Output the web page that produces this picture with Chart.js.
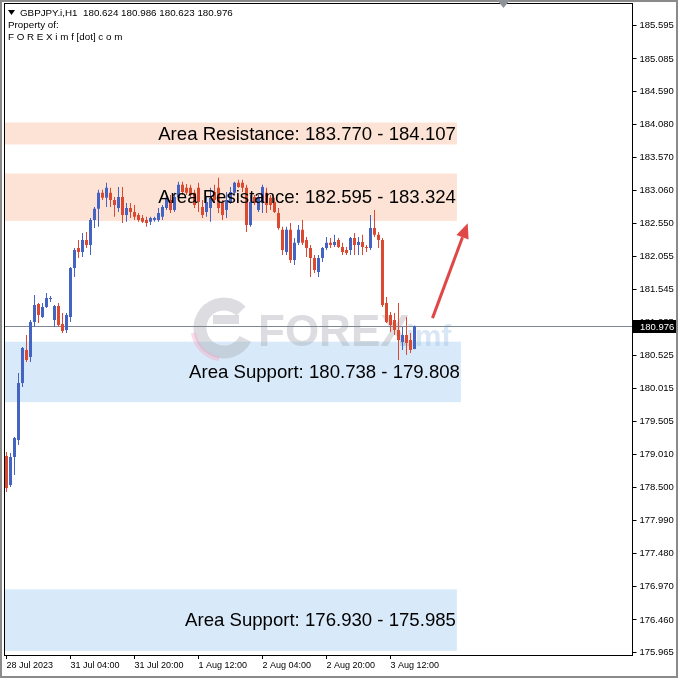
<!DOCTYPE html>
<html>
<head>
<meta charset="utf-8">
<title>GBPJPY H1</title>
<script src="https://cdn.jsdelivr.net/npm/chart.js@4.4.0/dist/chart.umd.min.js"></script>
<style>
  html, body { margin: 0; padding: 0; background: #fff; }
  #wrap { width: 678px; height: 678px; position: relative; }
</style>
</head>
<body>
<div id="wrap"><canvas id="chart" width="678" height="678"></canvas></div>
<script>
// --- data (GBPJPY.i, H1) ---
const opens = [
  178.980, 178.533, 178.964, 179.226, 180.103, 180.610, 180.503, 181.041, 181.318, 181.118,
  181.272, 181.395, 181.072, 181.287, 181.010, 180.918, 181.118, 181.872, 182.180, 182.118,
  182.303, 182.226, 182.610, 182.780, 183.026, 182.949, 183.026, 182.918, 182.795, 182.964,
  182.687, 182.795, 182.733, 182.687, 182.641, 182.610, 182.580, 182.610, 182.610, 182.657,
  182.795, 182.918, 182.764, 182.964, 183.149, 183.103, 183.103, 183.026, 183.103, 182.810,
  182.733, 182.795, 183.041, 183.103, 182.872, 182.764, 182.887, 183.026, 183.180, 183.180,
  183.103, 182.533, 182.964, 182.764, 182.872, 183.026, 182.949, 182.887, 182.718, 182.457,
  182.118, 182.457, 181.995, 182.257, 182.457, 182.303, 182.180, 182.026, 181.810, 182.026,
  182.180, 182.257, 182.226, 182.303, 182.195, 182.149, 182.149, 182.333, 182.226, 182.272,
  182.195, 182.180, 182.487, 182.380, 182.303, 181.333, 181.149, 181.072, 180.918, 180.733,
  180.841, 180.764, 180.624
];
const highs = [
  179.041, 179.026, 179.272, 180.257, 180.657, 180.841, 181.072, 181.457, 181.333, 181.333,
  181.487, 181.441, 181.303, 181.333, 181.180, 181.180, 181.887, 182.180, 182.303, 182.410,
  182.426, 182.641, 182.810, 183.072, 183.072, 183.180, 183.103, 182.964, 183.118, 183.118,
  182.872, 182.872, 182.841, 182.718, 182.687, 182.657, 182.657, 182.657, 182.795, 182.841,
  183.026, 182.995, 183.026, 183.195, 183.195, 183.164, 183.149, 183.072, 183.180, 182.918,
  182.964, 183.103, 183.149, 183.257, 182.918, 183.041, 183.118, 183.195, 183.226, 183.226,
  183.149, 182.995, 182.995, 182.995, 183.149, 183.103, 182.995, 182.949, 182.795, 182.503,
  182.503, 182.564, 182.333, 182.533, 182.610, 182.349, 182.226, 182.072, 182.072, 182.195,
  182.349, 182.333, 182.380, 182.333, 182.257, 182.195, 182.349, 182.410, 182.349, 182.380,
  182.226, 182.687, 182.764, 182.426, 182.333, 181.426, 181.195, 181.180, 181.333, 180.964,
  181.118, 180.872, 180.986
];
const lows = [
  178.426, 178.503, 178.687, 179.149, 180.041, 180.426, 180.426, 180.964, 181.026, 181.103,
  181.257, 181.349, 180.964, 180.964, 180.872, 180.872, 181.041, 181.733, 182.026, 182.041,
  182.180, 182.072, 182.487, 182.503, 182.918, 182.810, 182.810, 182.657, 182.733, 182.564,
  182.580, 182.641, 182.610, 182.580, 182.564, 182.503, 182.533, 182.580, 182.580, 182.610,
  182.764, 182.718, 182.733, 182.949, 182.995, 182.995, 182.949, 182.795, 182.733, 182.641,
  182.657, 182.580, 182.872, 182.718, 182.610, 182.641, 182.857, 182.995, 183.103, 183.041,
  182.426, 182.503, 182.841, 182.733, 182.718, 182.718, 182.764, 182.718, 182.457, 182.072,
  182.072, 181.949, 181.918, 182.226, 182.226, 182.041, 181.733, 181.795, 181.733, 181.964,
  182.149, 182.180, 182.195, 182.180, 182.072, 182.072, 182.072, 182.072, 182.072, 182.072,
  182.118, 182.149, 182.349, 182.180, 181.272, 181.026, 180.887, 180.841, 180.457, 180.610,
  180.533, 180.564, 180.623
];
const closes = [
  178.487, 178.964, 179.257, 180.103, 180.641, 180.457, 181.041, 181.303, 181.149, 181.272,
  181.410, 181.410, 181.287, 180.995, 180.903, 181.149, 181.872, 182.149, 182.118, 182.303,
  182.226, 182.610, 182.780, 183.026, 182.949, 183.103, 182.918, 182.841, 182.964, 182.687,
  182.795, 182.733, 182.657, 182.610, 182.580, 182.564, 182.641, 182.641, 182.718, 182.810,
  182.949, 182.764, 182.964, 183.149, 183.041, 183.026, 182.995, 182.841, 182.887, 182.687,
  182.887, 182.949, 182.918, 182.795, 182.687, 182.918, 183.041, 183.180, 183.118, 183.103,
  182.533, 182.887, 182.872, 182.949, 183.118, 182.841, 182.841, 182.733, 182.487, 182.149,
  182.457, 181.995, 182.257, 182.457, 182.257, 182.180, 182.026, 181.841, 182.026, 182.180,
  182.257, 182.226, 182.272, 182.195, 182.118, 182.103, 182.333, 182.226, 182.272, 182.195,
  182.180, 182.487, 182.380, 182.303, 181.303, 181.041, 180.995, 180.918, 180.764, 180.841,
  180.718, 180.610, 180.976
];

// time labels every 16 bars, starting at the first bar
const timeLabels = ['28 Jul 2023', '31 Jul 04:00', '31 Jul 20:00', '1 Aug 12:00', '2 Aug 04:00', '2 Aug 20:00', '3 Aug 12:00'];
const labelStep = 16;

const priceTicks = [185.595, 185.085, 184.590, 184.080, 183.570, 183.060, 182.550, 182.055, 181.545, 181.035,
                    180.525, 180.015, 179.505, 179.010, 178.500, 177.990, 177.480, 176.970, 176.460, 175.965];

const zoneLow  = [183.770, 182.595, 179.808, 175.985];
const zoneHigh = [184.107, 183.324, 180.738, 176.930];
const zoneText = ['Area Resistance: 183.770 - 184.107', 'Area Resistance: 182.595 - 183.324',
                  'Area Support: 180.738 - 179.808', 'Area Support: 176.930 - 175.985'];
const zoneKind = ['res', 'res', 'sup', 'sup'];

const lastPrice = 180.976;
const headerLine = 'GBPJPY.i,H1  180.624 180.986 180.623 180.976';

// arrow (bar index, price)
const arrowFrom = [106.5, 181.10];
const arrowTo = [115.3, 182.56];

// --- layout / style ---
const TOTAL_BARS = 157;
const zoneEnd = [112.6, 112.6, 113.6, 112.6];
const BULL = '#4464c4';
const BEAR = '#db4a30';
const FONT = 'Liberation Sans, Arial, sans-serif';

const cats = [];
for (let i = 0; i < TOTAL_BARS; i++) cats.push(i);
const colors = opens.map((o, i) => closes[i] >= o ? BULL : BEAR);

const overlay = {
  id: 'overlay',
  beforeDatasetsDraw(chart) {
    const { ctx, chartArea: a, scales: { x, y } } = chart;
    ctx.save();
    // zones
    zoneLow.forEach((lo, i) => {
      const top = y.getPixelForValue(zoneHigh[i]);
      const bot = y.getPixelForValue(lo);
      const right = x.getPixelForValue(zoneEnd[i]);
      ctx.fillStyle = zoneKind[i] === 'res' ? '#fde3d5' : '#d8e9f9';
      ctx.fillRect(a.left, top, right - a.left, bot - top);
    });
    // watermark
    ctx.globalAlpha = 0.4;
    ctx.lineWidth = 13;
    ctx.strokeStyle = '#a9a9b4';
    ctx.beginPath();
    ctx.arc(224, 328, 24, Math.PI * 0.15, Math.PI * 1.75);
    ctx.stroke();
    ctx.fillStyle = '#a9a9b4';
    ctx.fillRect(213, 315, 26, 9);
    ctx.strokeStyle = '#f4a6c6';
    ctx.lineWidth = 5;
    ctx.beginPath();
    ctx.arc(224, 328, 31, Math.PI * 0.55, Math.PI * 0.95);
    ctx.stroke();
    ctx.font = 'bold 44px ' + FONT;
    ctx.fillStyle = '#a9a9b4';
    ctx.textBaseline = 'alphabetic';
    ctx.textAlign = 'left';
    ctx.fillText('FOREX', 258, 346);
    ctx.fillStyle = '#9fc0e6';
    ctx.font = 'bold 30px ' + FONT;
    ctx.fillText('.imf', 398, 346);
    ctx.globalAlpha = 1;
    // last price line
    const py = Math.round(y.getPixelForValue(lastPrice)) + 0.5;
    ctx.strokeStyle = '#7d8794';
    ctx.lineWidth = 1;
    ctx.beginPath();
    ctx.moveTo(a.left, py);
    ctx.lineTo(a.right, py);
    ctx.stroke();
    ctx.restore();
  },
  afterDatasetsDraw(chart) {
    const { ctx, chartArea: a, scales: { x, y } } = chart;
    ctx.save();
    // zone labels
    ctx.font = '18.6px ' + FONT;
    ctx.fillStyle = '#000';
    ctx.textAlign = 'right';
    ctx.textBaseline = 'middle';
    zoneLow.forEach((lo, i) => {
      const mid = (y.getPixelForValue(zoneHigh[i]) + y.getPixelForValue(lo)) / 2;
      ctx.fillText(zoneText[i], x.getPixelForValue(zoneEnd[i]) - 1, mid + 1);
    });
    // arrow
    const x0 = x.getPixelForValue(arrowFrom[0]), y0 = y.getPixelForValue(arrowFrom[1]);
    const x1 = x.getPixelForValue(arrowTo[0]), y1 = y.getPixelForValue(arrowTo[1]);
    const ang = Math.atan2(y1 - y0, x1 - x0);
    const head = 15, hw = 6.5;
    const bx = x1 - head * Math.cos(ang), by = y1 - head * Math.sin(ang);
    ctx.strokeStyle = '#e04848';
    ctx.fillStyle = '#e04848';
    ctx.lineWidth = 3;
    ctx.beginPath();
    ctx.moveTo(x0, y0);
    ctx.lineTo(bx, by);
    ctx.stroke();
    ctx.beginPath();
    ctx.moveTo(x1, y1);
    ctx.lineTo(bx + hw * Math.sin(ang), by - hw * Math.cos(ang));
    ctx.lineTo(bx - hw * Math.sin(ang), by + hw * Math.cos(ang));
    ctx.closePath();
    ctx.fill();
    ctx.restore();
  },
  afterDraw(chart) {
    const { ctx, chartArea: a, scales: { y } } = chart;
    ctx.save();
    // frame of the plot
    ctx.strokeStyle = '#000';
    ctx.lineWidth = 1;
    ctx.strokeRect(Math.round(a.left) - 0.5, Math.round(a.top) - 0.5, Math.round(a.right) - Math.round(a.left), Math.round(a.bottom) - Math.round(a.top) + 1);
    // price box
    const py = Math.round(y.getPixelForValue(lastPrice));
    ctx.fillStyle = '#000';
    ctx.fillRect(Math.round(a.right), py - 6, 676 - Math.round(a.right), 13);
    ctx.fillStyle = '#fff';
    ctx.font = '9.5px ' + FONT;
    ctx.textAlign = 'left';
    ctx.textBaseline = 'middle';
    ctx.fillText(lastPrice.toFixed(3), 640, py + 1);
    // header text
    ctx.fillStyle = '#000';
    ctx.beginPath();
    ctx.moveTo(8, 10); ctx.lineTo(15, 10); ctx.lineTo(11.5, 15); ctx.closePath();
    ctx.fill();
    ctx.font = '9.8px ' + FONT;
    ctx.fillText(headerLine, 20, 13);
    ctx.fillText('Property of:', 8, 25);
    ctx.fillText('F O R E X i m f [dot] c o m', 8, 37);
    // window frame
    ctx.strokeStyle = '#8a8a8a';
    ctx.lineWidth = 2;
    ctx.strokeRect(1, 1, 676, 676);
    // chart shift marker
    ctx.fillStyle = '#8f9399';
    ctx.beginPath();
    ctx.moveTo(497, 0); ctx.lineTo(510, 0); ctx.lineTo(503.5, 8); ctx.closePath();
    ctx.fill();
    ctx.restore();
  }
};

new Chart(document.getElementById('chart'), {
  type: 'bar',
  data: {
    labels: cats,
    datasets: [
      {
        label: 'wick',
        data: lows.map((l, i) => [l, highs[i]]),
        backgroundColor: colors,
        barThickness: 1,
        grouped: false,
        order: 2
      },
      {
        label: 'body',
        data: opens.map((o, i) => [o, closes[i]]),
        backgroundColor: colors,
        barThickness: 3,
        minBarLength: 1,
        grouped: false,
        order: 1
      }
    ]
  },
  options: {
    responsive: false,
    animation: false,
    layout: { padding: { left: 4.5, top: 4, right: 0, bottom: 0 } },
    elements: { bar: { borderWidth: 0, inflateAmount: 0 } },
    plugins: { legend: { display: false }, tooltip: { enabled: false } },
    scales: {
      x: {
        type: 'category',
        offset: true,
        afterBuildTicks: s => {
          s.ticks = s.ticks.filter(t => t.value % labelStep === 0 && t.value / labelStep < timeLabels.length);
        },
        afterFit: s => { s.height = 23; s.paddingLeft = 0; s.paddingRight = 0; },
        grid: { offset: false, drawOnChartArea: false, tickLength: 4, color: '#000' },
        border: { color: '#000' },
        ticks: {
          autoSkip: false, maxRotation: 0, align: 'start', padding: 1, color: '#000',
          font: { family: FONT, size: 9 },
          callback: v => timeLabels[v / labelStep]
        }
      },
      y: {
        position: 'right',
        min: 175.92,
        max: 185.93,
        afterBuildTicks: s => { s.ticks = priceTicks.map(v => ({ value: v })); },
        afterFit: s => { s.width = 45.5; s.paddingTop = 0; s.paddingBottom = 0; },
        grid: { drawOnChartArea: false, tickLength: 4, color: '#000' },
        border: { color: '#000' },
        ticks: {
          autoSkip: false, padding: 3, color: '#000',
          font: { family: FONT, size: 9.5 },
          callback: v => Number(v).toFixed(3)
        }
      }
    }
  },
  plugins: [overlay]
});
</script>
</body>
</html>
